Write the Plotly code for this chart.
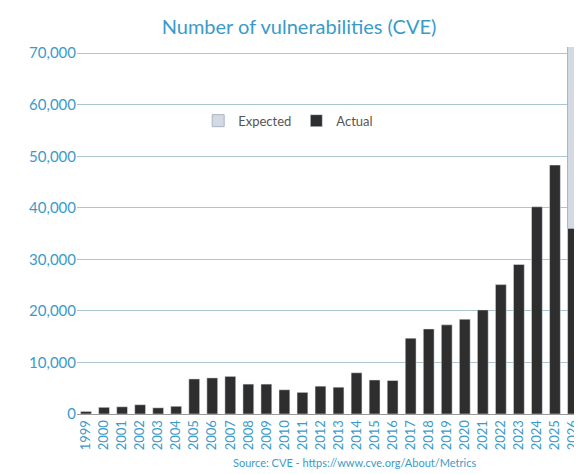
import plotly.graph_objects as go

years = [str(y) for y in range(1999, 2027)]
actual = [500, 1300, 1400, 1800, 1200, 1500, 6800, 7000, 7300, 5800, 5800, 4700, 4200, 5400,
          5200, 8000, 6600, 6500, 14700, 16500, 17300, 18400, 20200, 25100, 29000, 40200, 48300, 36000]
expected = [None]*27 + [35500]

blue = "#3a9bc9"
fig = go.Figure()
fig.add_bar(x=years, y=expected, name="Expected", marker=dict(color="#d3dae3", line=dict(color="#a8b4c2", width=1)))
fig.add_bar(x=years, y=actual, name="Actual", marker=dict(color="#2e2e2e"))
fig.update_traces(selector=dict(name="Expected"), base=[None]*27 + [36000])
fig.update_layout(
    width=582, height=474, barmode="overlay", bargap=0.4,
    paper_bgcolor="white", plot_bgcolor="white",
    font=dict(family="Lato", color=blue, size=14),
    title=dict(text="Number of vulnerabilities (CVE)", x=0.5, y=0.975, yanchor="top", font=dict(size=20, color=blue)),
    margin=dict(l=69, r=8, t=39, b=68, autoexpand=False),
    legend=dict(orientation="h", x=0.24, y=0.84, font=dict(size=13, color="#555"), traceorder="normal",
                itemwidth=30, bgcolor="rgba(0,0,0,0)"),
    xaxis=dict(tickangle=-90, tickfont=dict(size=13, color=blue), showline=True, linecolor="#999",
               range=[-0.5, 27.5]),
    yaxis=dict(range=[0, 71200], tickformat=",", dtick=10000, gridcolor="#aac4d2",
               tickfont=dict(size=15, color=blue), zeroline=False),
    annotations=[dict(text="Source: CVE - https://www.cve.org/About/Metrics", x=0.55, y=-0.155,
                      xref="paper", yref="paper", showarrow=False, font=dict(size=11, color=blue))],
)
fig.write_html("out.html")
